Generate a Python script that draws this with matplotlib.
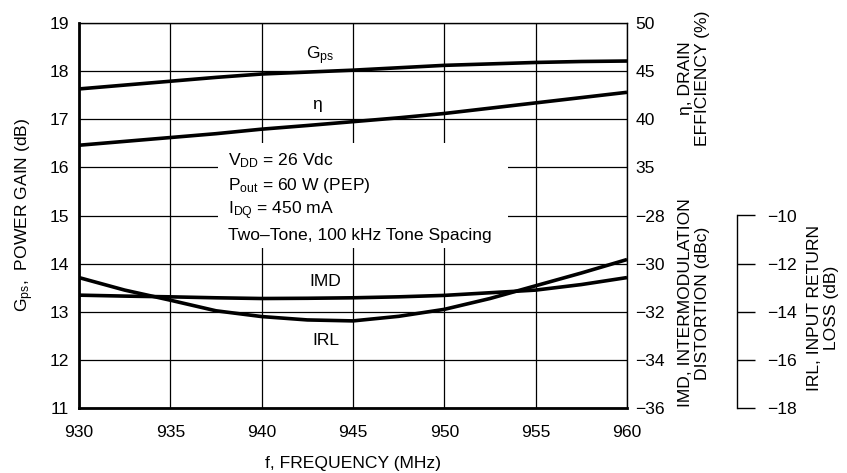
import matplotlib
matplotlib.use("Agg")
import matplotlib.pyplot as plt
from matplotlib.patches import Rectangle

plt.rcParams['font.family'] = ['Liberation Sans', 'DejaVu Sans']
plt.rcParams['mathtext.default'] = 'regular'
plt.rcParams['font.size'] = 12.6

# values
freq = [930, 932.5, 935, 937.5, 940, 942.5, 945, 947.5, 950, 952.5, 955, 957.5, 960]
gps = [17.63, 17.71, 17.79, 17.87, 17.94, 17.98, 18.02, 18.07, 18.12, 18.15, 18.18, 18.20, 18.21]
eta = [37.3, 37.7, 38.1, 38.5, 38.97, 39.35, 39.75, 40.15, 40.6, 41.15, 41.7, 42.25, 42.8]
imd = [-31.31, -31.35, -31.38, -31.42, -31.45, -31.44, -31.42, -31.38, -31.32, -31.21, -31.1, -30.87, -30.58]
irl = [-12.58, -13.1, -13.52, -13.96, -14.2, -14.34, -14.38, -14.19, -13.9, -13.45, -12.92, -12.39, -11.83]

xticks = [930, 935, 940, 945, 950, 955, 960]
gps_ticks = [11, 12, 13, 14, 15, 16, 17, 18, 19]
eta_ticks = [35, 40, 45, 50]
imd_ticks = [-36, -34, -32, -30, -28]
irl_ticks = [-18, -16, -14, -12, -10]

conditions = ['$V_{DD}$ = 26 Vdc', '$P_{out}$ = 60 W (PEP)', '$I_{DQ}$ = 450 mA',
              'Two\u2013Tone, 100 kHz Tone Spacing']

W, H = 847, 473
fig = plt.figure(figsize=(W / 100, H / 100), dpi=100)
ax = fig.add_axes([79 / W, 1 - 408 / H, (627 - 79) / W, (408 - 23) / H])

ax.set_xlim(930, 960)
ax.set_ylim(11, 19)
ax.set_xticks(xticks)
ax.set_yticks(gps_ticks)
ax.grid(True, color='black', linewidth=0.9)
ax.tick_params(axis='both', length=0)
ax.tick_params(axis='x', pad=12)
ax.tick_params(axis='y', pad=7)
for side in ['left', 'bottom']:
    ax.spines[side].set_linewidth(2)
for side in ['top', 'right']:
    ax.spines[side].set_linewidth(1)

lw = 2.6
ax.plot(freq, gps, color='black', lw=lw, solid_capstyle='butt', zorder=4)

# efficiency axis (upper right)
ax_eta = ax.twinx()
ax_eta.set_ylim(10, 50)
ax_eta.set_yticks(eta_ticks)
ax_eta.tick_params(length=0, pad=6)
for s in ax_eta.spines.values():
    s.set_visible(False)
ax_eta.plot(freq, eta, color='black', lw=lw, solid_capstyle='butt')

# IMD axis (lower right)
ax_imd = ax.twinx()
ax_imd.set_ylim(-36, -20)
ax_imd.set_yticks(imd_ticks)
ax_imd.tick_params(length=0, pad=6)
for s in ax_imd.spines.values():
    s.set_visible(False)
ax_imd.plot(freq, imd, color='black', lw=lw, solid_capstyle='butt')

# IRL axis (offset)
ax_irl = ax.twinx()
ax_irl.set_ylim(-18, -2)
ax_irl.set_yticks(irl_ticks)
for side in ['top', 'left', 'bottom']:
    ax_irl.spines[side].set_visible(False)
ax_irl.spines['right'].set_position(('axes', (737 - 79) / (627 - 79)))
ax_irl.spines['right'].set_bounds(-18, -10)
ax_irl.spines['right'].set_linewidth(1)
ax_irl.tick_params(direction='out', length=13, width=1, pad=9)
ax_irl.plot(freq, irl, color='black', lw=lw, solid_capstyle='butt')

# white box with the test conditions
ax.add_patch(Rectangle((937.6, 14.32), 15.9, 2.19, facecolor='white',
                       edgecolor='none', zorder=3))
for i, line in enumerate(conditions):
    ax.text(938.15, 16.15 - i * 0.52, line, ha='left', va='center', zorder=5)

# curve labels
ax.text(943.2, 18.33, '$G_{ps}$', ha='center', va='center', zorder=5)
ax.text(943.0, 17.3, '\u03b7', ha='center', va='center', zorder=5)
ax.text(943.5, 13.62, 'IMD', ha='center', va='center', zorder=5)
ax.text(943.5, 12.41, 'IRL', ha='center', va='center', zorder=5)

# axis titles
fig.text(25 / W, 1 - 215 / H, '$G_{ps}$,  POWER GAIN (dB)', rotation=90,
         ha='center', va='center')
fig.text(353 / W, 1 - 463 / H, 'f, FREQUENCY (MHz)', ha='center', va='center')
fig.text(694 / W, 1 - 78 / H, '\u03b7, DRAIN\nEFFICIENCY (%)', rotation=90,
         ha='center', va='center', multialignment='center')
fig.text(694 / W, 1 - 303 / H, 'IMD, INTERMODULATION\nDISTORTION (dBc)', rotation=90,
         ha='center', va='center', multialignment='center')
fig.text(823 / W, 1 - 308 / H, 'IRL, INPUT RETURN\nLOSS (dB)', rotation=90,
         ha='center', va='center', multialignment='center')

fig.savefig('out.png', dpi=100)
